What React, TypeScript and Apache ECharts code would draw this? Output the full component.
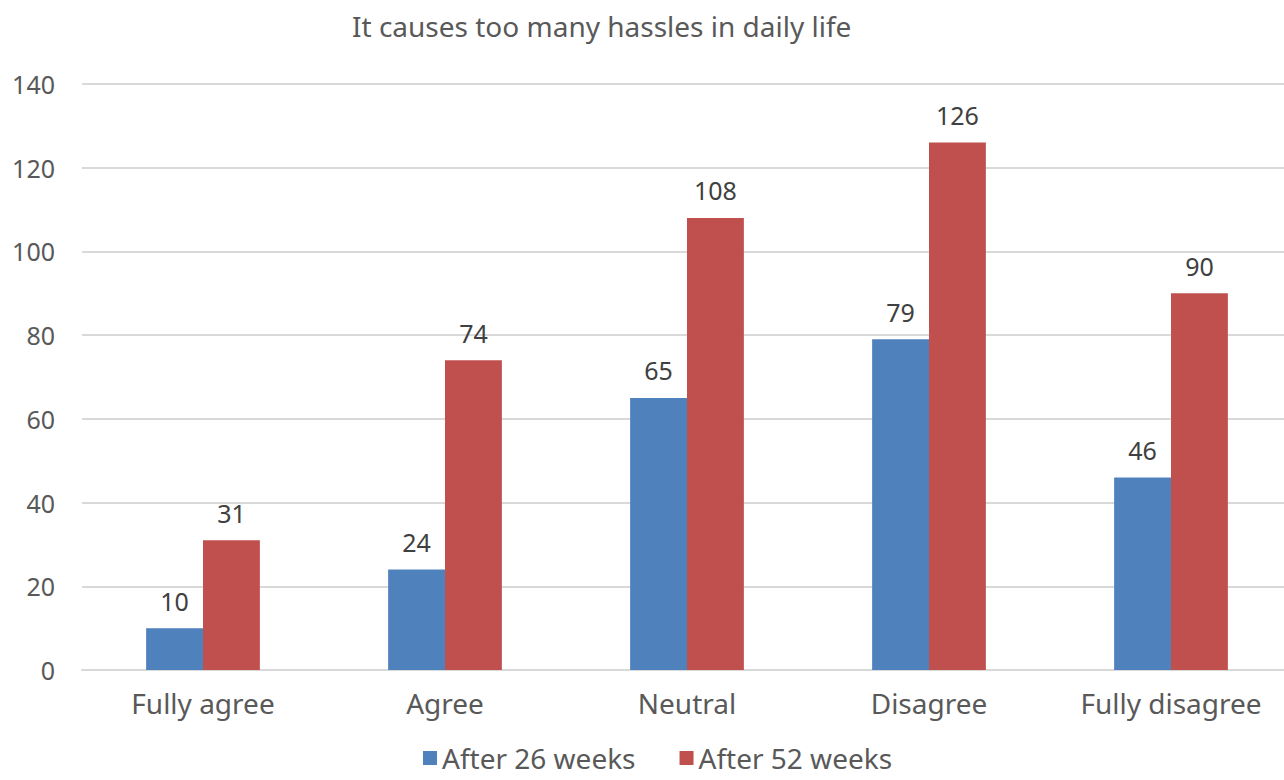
import React, { useEffect, useRef } from "react";
import * as echarts from "echarts";

const categories = ["Fully agree", "Agree", "Neutral", "Disagree", "Fully disagree"];
const after26 = [10, 24, 65, 79, 46];
const after52 = [31, 74, 108, 126, 90];
const seriesNames = ["After 26 weeks", "After 52 weeks"];

const FONT = "'Noto Sans', 'Open Sans', sans-serif";
const TEXT = "#595959";

export default function App() {
  const ref = useRef<HTMLDivElement>(null);

  useEffect(() => {
    if (!ref.current) return;
    const chart = echarts.init(ref.current, null, { renderer: "svg" });
    const label = {
      show: true,
      position: "top" as const,
      distance: 15,
      color: "#404040",
      fontSize: 25,
      fontFamily: FONT,
    };
    chart.setOption({
      animation: false,
      backgroundColor: "#ffffff",
      title: {
        text: "It causes too many hassles in daily life",
        left: 352,
        top: 12,
        padding: 0,
        textStyle: { color: TEXT, fontSize: 28, fontWeight: "normal", fontFamily: FONT },
      },
      legend: {
        top: 744,
        left: 423,
        padding: 0,
        itemWidth: 14,
        itemHeight: 14,
        itemGap: 44,
        itemTextGap: 9,
        icon: "rect",
        textStyle: { color: TEXT, fontSize: 28, lineHeight: 28, fontFamily: FONT },
        data: seriesNames,
      },
      grid: { left: 82, right: 0, top: 84, bottom: 110 },
      xAxis: {
        type: "category",
        data: categories,
        axisLine: { lineStyle: { color: "#d9d9d9", width: 2 } },
        axisTick: { show: false },
        axisLabel: { color: TEXT, fontSize: 28, fontFamily: FONT, margin: 19 },
      },
      yAxis: {
        type: "value",
        min: 0,
        max: 140,
        interval: 20,
        axisLine: { show: false },
        axisTick: { show: false },
        splitLine: { lineStyle: { color: "#d9d9d9", width: 2 } },
        axisLabel: { color: TEXT, fontSize: 25, fontFamily: FONT, margin: 27 },
      },
      series: [
        {
          name: seriesNames[0],
          type: "bar",
          data: after26,
          itemStyle: { color: "#4F81BD" },
          barGap: "0%",
          barCategoryGap: "53%",
          label,
        },
        {
          name: seriesNames[1],
          type: "bar",
          data: after52,
          itemStyle: { color: "#C0504D" },
          barGap: "0%",
          barCategoryGap: "53%",
          label,
        },
      ],
    });
    return () => chart.dispose();
  }, []);

  return (
    <div
      style={{
        position: "absolute",
        left: 0,
        top: 0,
        width: 1284,
        height: 780,
        overflow: "hidden",
      }}
    >
      <div ref={ref} style={{ width: 1292, height: 780 }} />
    </div>
  );
}
